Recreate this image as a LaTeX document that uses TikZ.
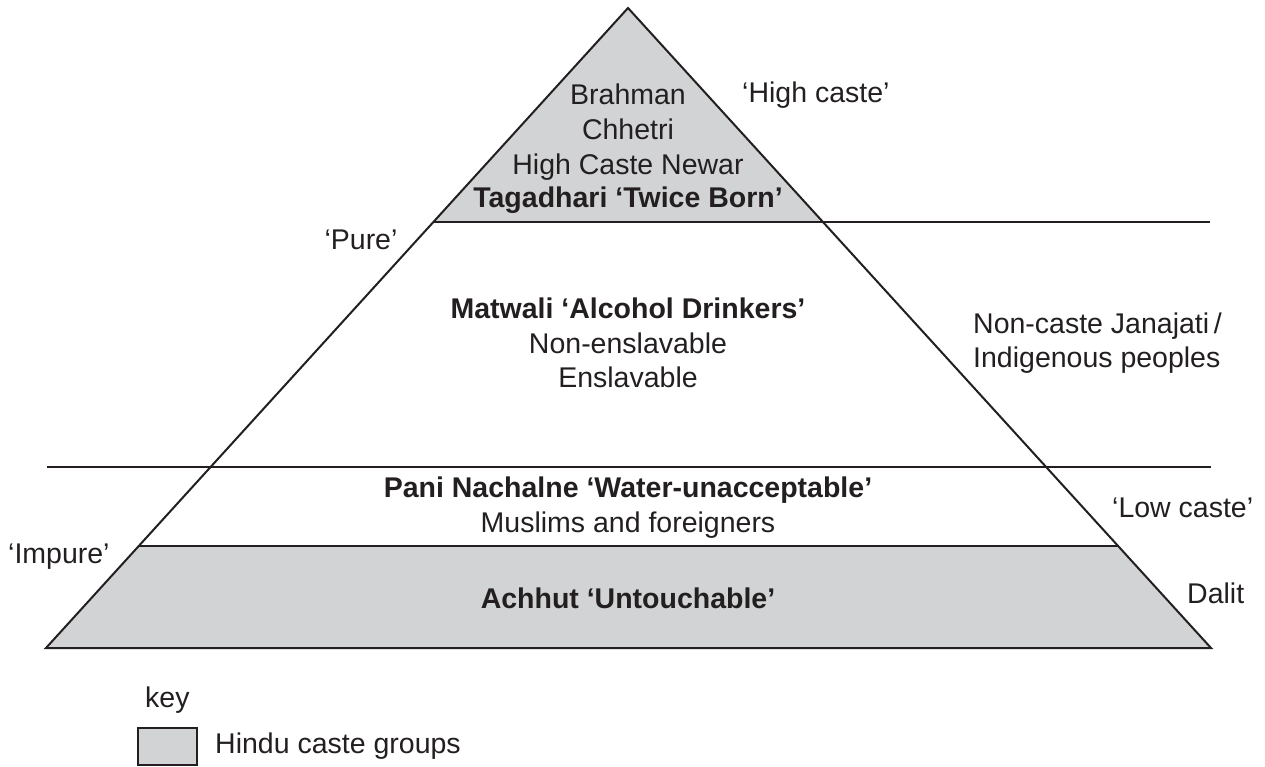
\documentclass[tikz,border=0pt]{standalone}
\usepackage{fontspec}
\setmainfont{Liberation Sans}
\definecolor{ink}{HTML}{231F20}
\definecolor{castegrey}{HTML}{D1D3D4}
\begin{document}
\begin{tikzpicture}[x=1pt,y=-1pt,
  lbl/.style={inner sep=0pt, text=ink, font=\fontsize{28.5}{34}\selectfont, anchor=base},
  lblw/.style={lbl, anchor=base west},
  bold/.style={lbl, font=\fontsize{28.5}{34}\selectfont\bfseries}]
\useasboundingbox (0,0) rectangle (1265,767);
\coordinate (apex) at (628,8);
\coordinate (lb) at (46,648);
\coordinate (rb) at (1211,648);
\coordinate (tl) at (433.4,222);
\coordinate (tr) at (822.9,222);
\coordinate (bl) at (139,546);
\coordinate (br) at (1118,546);
\coordinate (hiend) at (1210,222);
\coordinate (mida) at (47,467);
\coordinate (midb) at (1211,467);
\fill[castegrey] (apex) -- (tl) -- (tr) -- cycle;
\fill[castegrey] (bl) -- (lb) -- (rb) -- (br) -- cycle;
\draw[ink, line width=1.3pt] (tl) -- (hiend);
\draw[ink, line width=1.3pt] (mida) -- (midb);
\draw[ink, line width=1.3pt] (bl) -- (br);
\draw[ink, line width=2pt, line join=miter] (apex) -- (lb) -- (rb) -- cycle;
\node[lbl] (brahman) at (628,105){Brahman};
\node[lbl] (chhetri) at (628,140){Chhetri};
\node[lbl] (newar) at (628,175){High Caste Newar};
\node[bold] (tagadhari) at (628,208){Tagadhari ‘Twice Born’};
\node[bold] (matwali) at (628,318){Matwali ‘Alcohol Drinkers’};
\node[lbl] (nonensl) at (628,353){Non-enslavable};
\node[lbl] (ensl) at (628,387){Enslavable};
\node[bold] (pani) at (628,497){Pani Nachalne ‘Water-unacceptable’};
\node[lbl] (muslims) at (628,532){Muslims and foreigners};
\node[bold] (achhut) at (628,608){Achhut ‘Untouchable’};
\node[lblw] (highcaste) at (742,103){‘High caste’};
\node[lbl] (pure) at (361,250){‘Pure’};
\node[lblw] (noncaste) at (973,333){Non-caste Janajati\,/};
\node[lblw] (indig) at (973,367){Indigenous peoples};
\node[lblw] (lowcaste) at (1112,517){‘Low caste’};
\node[lblw] (impure) at (8,563){‘Impure’};
\node[lblw] (dalit) at (1187,603){Dalit};
\node[lblw] (keylbl) at (145,707){key};
\node[draw=ink, fill=castegrey, line width=2pt, inner sep=0pt,
  minimum width=59pt, minimum height=37pt] (keybox) at (167.5,746.5){};
\node[lblw] (hindu) at (215,753){Hindu caste groups};
\end{tikzpicture}
\end{document}
